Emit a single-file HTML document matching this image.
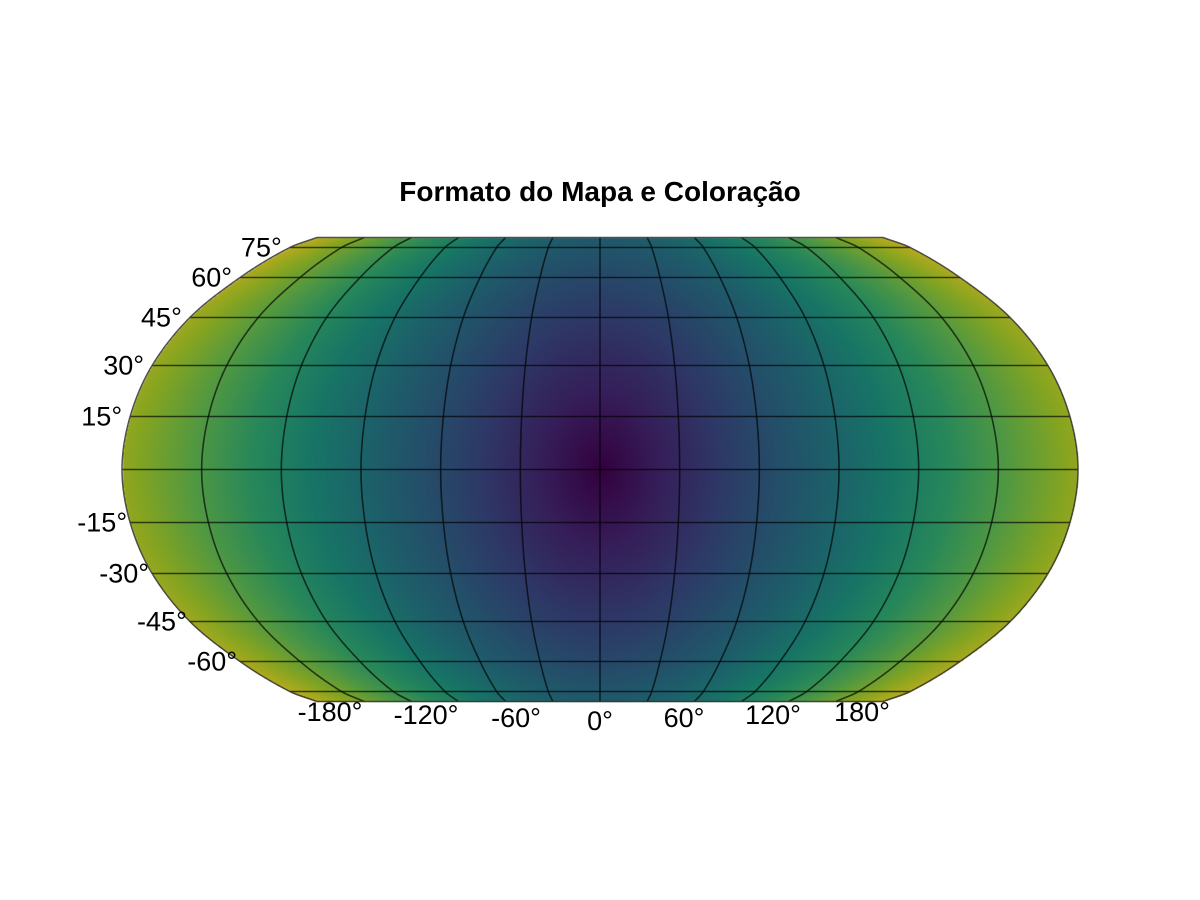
<!DOCTYPE html>
<html>
<head>
<meta charset="utf-8">
<style>
html,body{margin:0;padding:0;background:#fff;}
#wrap{position:relative;width:1200px;height:900px;overflow:hidden;font-family:"Liberation Sans",sans-serif;}
canvas,svg{position:absolute;left:0;top:0;}
</style>
</head>
<body>
<div id="wrap">
<canvas id="cv" width="1200" height="900"></canvas>
<svg id="sv" width="1200" height="900">
<text x="600" y="201" text-anchor="middle" font-size="28" font-weight="bold" font-family="Liberation Sans, sans-serif">Formato do Mapa e Coloração</text>
</svg>
</div>
<script>
// Data
const latTicks = [-75, -60, -45, -30, -15, 0, 15, 30, 45, 60, 75];
const latLabels = ["-60°", "-45°", "-30°", "-15°", "15°", "30°", "45°", "60°", "75°"];
const latLabelVals = [-60, -45, -30, -15, 15, 30, 45, 60, 75];
const lonTicks = [-150, -120, -90, -60, -30, 0, 30, 60, 90, 120, 150];
const lonLabels = ["-180°", "-120°", "-60°", "0°", "60°", "120°", "180°"];
const lonLabelX = [330, 426, 516, 600, 684, 773, 862];
const lonLabelY = [712, 715, 718, 721, 718, 715, 712];
const latMax = 80;

// Projection tables (pseudo-cylindrical), symmetric
const PLAT = [-80, -75, -60, -45, -30, -15, 0, 15, 30, 45, 60, 75, 80];
const PY = [-232, -222, -192, -152, -104, -53, 0, 53, 104, 152, 192, 222, 232];
const PF = [0.592, 0.649, 0.753, 0.858, 0.937, 0.983, 1, 0.983, 0.937, 0.858, 0.753, 0.649, 0.592];
const CX = 600, CY = 469.5, HW = 478;

function spline(xs, ys, v) {
  const n = xs.length;
  let i = 0;
  while (i < n - 2 && v > xs[i+1]) i++;
  const x0 = xs[i], x1 = xs[i+1], h = x1 - x0;
  const t = Math.max(0, Math.min(1, (v - x0) / h));
  const slope = k => {
    if (k === 0) return (ys[1] - ys[0]) / (xs[1] - xs[0]);
    if (k === n - 1) return (ys[n-1] - ys[n-2]) / (xs[n-1] - xs[n-2]);
    return (ys[k+1] - ys[k-1]) / (xs[k+1] - xs[k-1]);
  };
  const m0 = slope(i) * h, m1 = slope(i+1) * h;
  const t2 = t*t, t3 = t2*t;
  return (2*t3 - 3*t2 + 1)*ys[i] + (t3 - 2*t2 + t)*m0 + (-2*t3 + 3*t2)*ys[i+1] + (t3 - t2)*m1;
}
function yOff(lat) { return spline(PLAT, PY, lat); }
function fac(lat) { return spline(PLAT, PF, lat); }
function projY(lat) { return CY - yOff(lat); }
function projX(lon, lat) { return CX + lon / 180 * HW * fac(lat); }
function invLat(off) {
  let lo = -latMax, hi = latMax;
  for (let k = 0; k < 40; k++) { const m = (lo + hi) / 2; if (yOff(m) < off) lo = m; else hi = m; }
  return (lo + hi) / 2;
}

// viridis
const VIR = [[68,1,84],[72,40,120],[62,74,137],[49,104,142],[38,130,142],[31,158,137],[53,183,121],[109,205,89],[180,222,44],[253,231,37]];
function viridis(t) {
  t = Math.max(0, Math.min(1, t)) * (VIR.length - 1);
  const i = Math.min(VIR.length - 2, Math.floor(t)), f = t - i;
  return [0,1,2].map(k => VIR[i][k] + f * (VIR[i+1][k] - VIR[i][k]));
}

// Fill
const cv = document.getElementById('cv');
const ctx = cv.getContext('2d');
const img = ctx.createImageData(1200, 900);
const yTop = Math.ceil(projY(latMax)), yBot = Math.floor(projY(-latMax));
const maxD = Math.sqrt(180*180 + latMax*latMax);
const shade = 0.74;
for (let y = yTop; y <= yBot; y++) {
  const lat = invLat(CY - y);
  const f = fac(lat);
  for (let x = 0; x < 1200; x++) {
    const lon = (x - CX) / (HW * f) * 180;
    if (Math.abs(lon) > 180) continue;
    const c = viridis(Math.sqrt(lon*lon + lat*lat) / maxD);
    const o = (y * 1200 + x) * 4;
    img.data[o] = c[0]*shade; img.data[o+1] = c[1]*shade; img.data[o+2] = c[2]*shade; img.data[o+3] = 255;
  }
}
ctx.putImageData(img, 0, 0);

// Overlay
const NS = 'http://www.w3.org/2000/svg';
const sv = document.getElementById('sv');
function mk(tag, attrs) { const e = document.createElementNS(NS, tag); for (const k in attrs) e.setAttribute(k, attrs[k]); return e; }

const grid = mk('g', {stroke: '#000', 'stroke-opacity': '0.65', 'stroke-width': '1.6', fill: 'none'});


sv.appendChild(grid);
latTicks.forEach(lat => {
  const y = projY(lat);
  const l = mk('line', {x1: projX(-180, lat), x2: projX(180, lat), y1: y, y2: y});
  
  
  grid.appendChild(l);
});
function meridianPts(lon) {
  const pts = [];
  for (let lat = -latMax; lat <= latMax; lat += 0.5) pts.push(projX(lon, lat).toFixed(2) + ',' + projY(lat).toFixed(2));
  return pts;
}
lonTicks.forEach(lon => {
  const p = mk('polyline', {points: meridianPts(lon).join(' ')});
  
  
  grid.appendChild(p);
});
const right = meridianPts(180), left = meridianPts(-180).reverse();
const outline = mk('polygon', {points: right.concat(left).join(' '), stroke: '#333', 'stroke-opacity': '0.85', 'stroke-width': '1.5', fill: 'none'});


sv.appendChild(outline);

// Labels
latLabelVals.forEach((lat, i) => {
  const off = lat > 0 ? 8 : 3;
  const t = mk('text', {x: projX(-180, lat) - off, y: projY(lat) + 9, 'text-anchor': 'end', 'font-size': '27', 'font-family': 'Liberation Sans, sans-serif'});
  t.textContent = latLabels[i];
  
  
  sv.appendChild(t);
});
lonLabels.forEach((s, i) => {
  const t = mk('text', {x: lonLabelX[i], y: lonLabelY[i] + 9, 'text-anchor': 'middle', 'font-size': '27', 'font-family': 'Liberation Sans, sans-serif'});
  t.textContent = s;
  
  
  sv.appendChild(t);
});
</script>
</body>
</html>
